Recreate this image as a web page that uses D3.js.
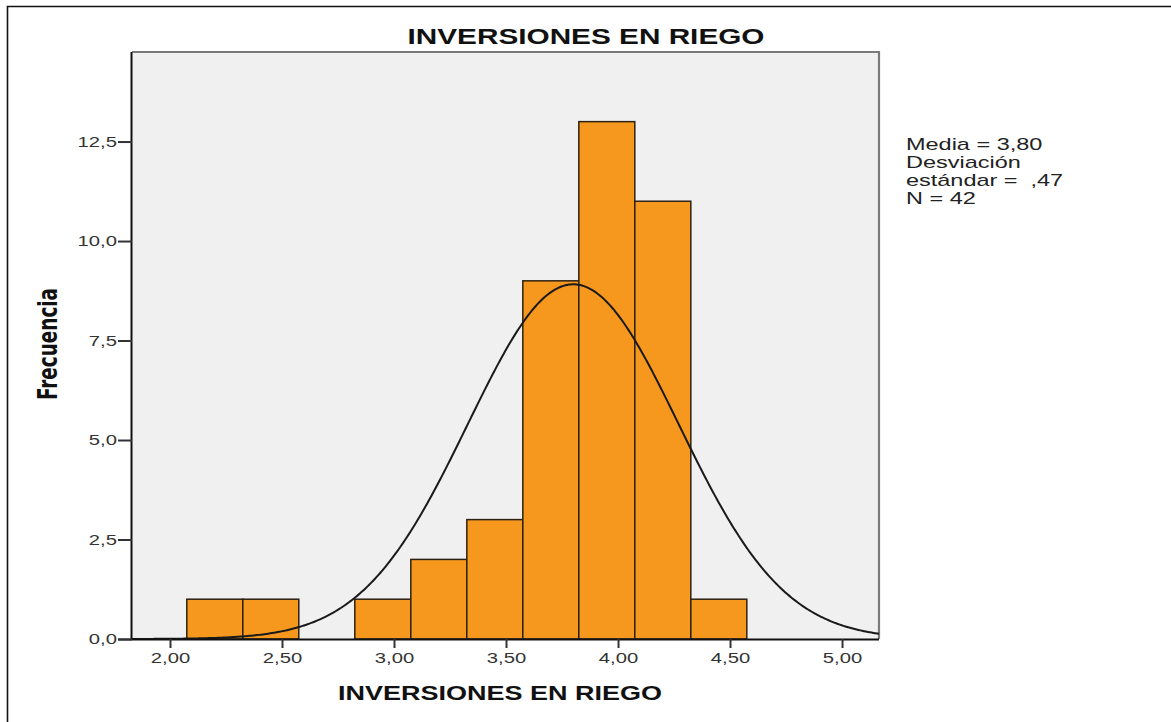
<!DOCTYPE html>
<html>
<head>
<meta charset="utf-8">
<script src="https://cdn.jsdelivr.net/npm/d3@7"></script>
<style>
  html, body { margin: 0; padding: 0; background: #fff; }
  svg { display: block; }
  text { font-family: "Liberation Sans", Arial, sans-serif; }
</style>
</head>
<body>
<svg id="chart" width="1171" height="722"></svg>
<script>
// Histogram bins: lower edges (last entry closes the final bin) and counts
const binEdges = [2.075, 2.325, 2.575, 2.825, 3.075, 3.325, 3.575, 3.825, 4.075, 4.325, 4.575];
const frequencies = [1, 1, 0, 1, 2, 3, 9, 13, 11, 1];

// Summary statistics shown in the legend and used for the normal curve
const mean = 3.80;
const stdDev = 0.47;
const nCases = 42;

// Axis ticks
const xTicks = [2.0, 2.5, 3.0, 3.5, 4.0, 4.5, 5.0];
const xTickLabels = ["2,00", "2,50", "3,00", "3,50", "4,00", "4,50", "5,00"];
const yTicks = [0, 2.5, 5, 7.5, 10, 12.5];
const yTickLabels = ["0,0", "2,5", "5,0", "7,5", "10,0", "12,5"];

const legendLines = ["Media = 3,80", "Desviación", "estándar =  ,47", "N = 42"];

const svg = d3.select("#chart");
const plot = { left: 132, top: 52, right: 879, bottom: 639 };

const x = d3.scaleLinear().domain([1.8304, 5.165]).range([plot.left, plot.right]);
const y = d3.scaleLinear().domain([0, 14.75]).range([plot.bottom, plot.top]);

// Widen text horizontally (wide, low type as in the output style)
function widen(sel, factor) {
  sel.each(function () {
    const w = this.getComputedTextLength();
    d3.select(this).attr("textLength", w * factor).attr("lengthAdjust", "spacingAndGlyphs");
  });
}

// outer frame (left and top edges)
svg.append("path")
  .attr("d", "M7.5,722 V6.5 H1171")
  .attr("fill", "none").attr("stroke", "#111").attr("stroke-width", 1.6);

// plot background
svg.append("rect")
  .attr("x", plot.left).attr("y", plot.top)
  .attr("width", plot.right - plot.left).attr("height", plot.bottom - plot.top)
  .attr("fill", "#f0f0f0");

// top and right frame lines of the plot area
svg.append("path")
  .attr("d", `M${plot.left},${plot.top} H${plot.right} V${plot.bottom}`)
  .attr("fill", "none").attr("stroke", "#7a7a7a").attr("stroke-width", 2.2);

// bars
const bins = frequencies.map((f, i) => ({ x0: binEdges[i], x1: binEdges[i + 1], f }));
svg.append("g").selectAll("rect")
  .data(bins.filter(d => d.f > 0))
  .join("rect")
  .attr("x", d => x(d.x0))
  .attr("y", d => y(d.f))
  .attr("width", d => x(d.x1) - x(d.x0))
  .attr("height", d => y(0) - y(d.f))
  .attr("fill", "#f7981e")
  .attr("stroke", "#2b2214")
  .attr("stroke-width", 1.5);

// fitted normal curve scaled to counts per bin
const binWidth = binEdges[1] - binEdges[0];
const normal = v => nCases * binWidth / (stdDev * Math.sqrt(2 * Math.PI)) *
  Math.exp(-0.5 * Math.pow((v - mean) / stdDev, 2));
const curveXs = d3.range(0, 401).map(i => x.domain()[0] + (x.domain()[1] - x.domain()[0]) * i / 400);
svg.append("path")
  .datum(curveXs)
  .attr("d", d3.line().x(v => x(v)).y(v => y(normal(v))))
  .attr("fill", "none").attr("stroke", "#1a1a1a").attr("stroke-width", 2);

// x axis
const xAxis = d3.axisBottom(x)
  .tickValues(xTicks)
  .tickFormat((d, i) => xTickLabels[i])
  .tickSize(9).tickPadding(4).tickSizeOuter(0);
const gx = svg.append("g").attr("transform", `translate(0,${plot.bottom})`).call(xAxis);
gx.select(".domain").attr("d", `M${plot.left - 14},0.5H${plot.right}`).attr("stroke", "#111").attr("stroke-width", 2);
gx.selectAll(".tick line").attr("stroke", "#333").attr("stroke-width", 2);
gx.selectAll(".tick text").attr("fill", "#333").attr("font-size", 15)
  .attr("font-family", "'Liberation Sans', Arial, sans-serif")
  .call(widen, 1.35);

// y axis
const yAxis = d3.axisLeft(y)
  .tickValues(yTicks)
  .tickFormat((d, i) => yTickLabels[i])
  .tickSize(14).tickPadding(1).tickSizeOuter(0);
const gy = svg.append("g").attr("transform", `translate(${plot.left},0)`).call(yAxis);
gy.select(".domain").attr("d", `M-0.5,${plot.top}V${plot.bottom}`).attr("stroke", "#111").attr("stroke-width", 2);
gy.selectAll(".tick line").attr("stroke", "#333").attr("stroke-width", 2);
gy.selectAll(".tick text").attr("fill", "#333").attr("font-size", 15)
  .attr("font-family", "'Liberation Sans', Arial, sans-serif")
  .call(widen, 1.35);

// titles
svg.append("text")
  .attr("x", 586).attr("y", 44)
  .attr("text-anchor", "middle")
  .attr("font-size", 22).attr("font-weight", "bold").attr("fill", "#111")
  .attr("textLength", 357).attr("lengthAdjust", "spacingAndGlyphs")
  .text("INVERSIONES EN RIEGO");

svg.append("text")
  .attr("x", 500).attr("y", 700)
  .attr("text-anchor", "middle")
  .attr("font-size", 21).attr("font-weight", "bold").attr("fill", "#111")
  .attr("textLength", 324).attr("lengthAdjust", "spacingAndGlyphs")
  .text("INVERSIONES EN RIEGO");

svg.append("text")
  .attr("transform", "translate(57,344) rotate(-90)")
  .attr("text-anchor", "middle")
  .attr("font-size", 26).attr("font-weight", "bold").attr("fill", "#111")
  .style("font-family", "'Liberation Sans Narrow', 'DejaVu Sans Condensed', sans-serif")
  .attr("textLength", 112).attr("lengthAdjust", "spacingAndGlyphs")
  .text("Frecuencia");

// legend with summary statistics
svg.append("g").selectAll("text")
  .data(legendLines)
  .join("text")
  .attr("x", 906)
  .attr("y", (d, i) => 150 + i * 18)
  .attr("font-size", 17).attr("fill", "#222")
  .style("white-space", "pre")
  .text(d => d)
  .call(widen, 1.38);
</script>
</body>
</html>
